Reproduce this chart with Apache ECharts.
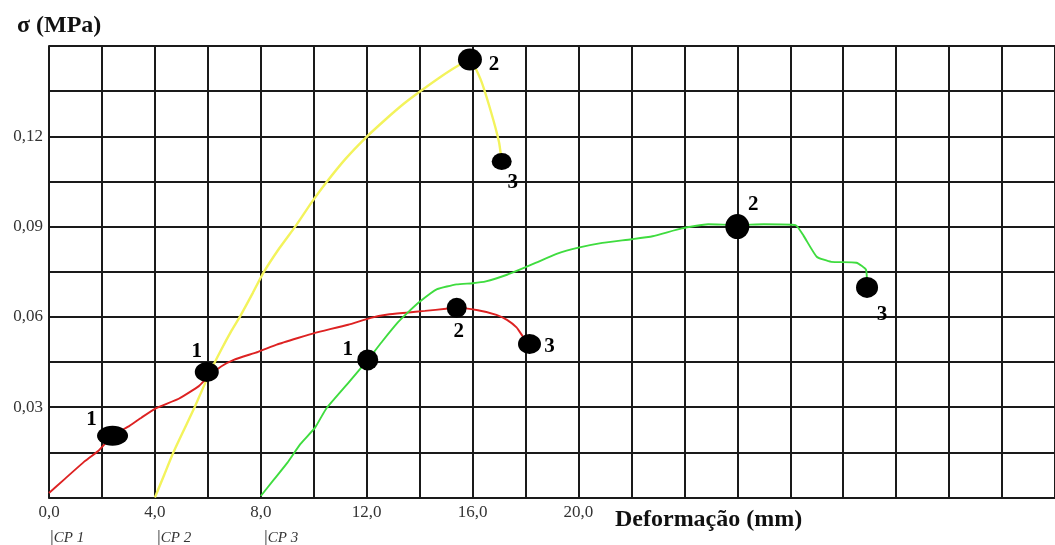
<!DOCTYPE html>
<html><head><meta charset="utf-8">
<script src="https://cdn.jsdelivr.net/npm/echarts@6/dist/echarts.min.js"></script>
<style>html,body{margin:0;padding:0;background:#fff}#c{width:1055px;height:545px}</style>
</head><body><div id="c"></div>
<script>
// ---- data ----
const xTickLabels = ['0,0', '4,0', '8,0', '12,0', '16,0', '20,0'];
const yTickLabels = ['0,03', '0,06', '0,09', '0,12'];
const cpLabels = ['CP 1', 'CP 2', 'CP 3'];
const yTitle = 'σ (MPa)';
const xTitle = 'Deformação (mm)';

const cp1 = [[0,0.0015],[0.6,0.0062],[1.28,0.0115],[1.9,0.0158],[2.4,0.0205],[3.04,0.0238],[3.5,0.0266],[4.05,0.0297],[4.9,0.0328],[5.66,0.037],[6.0,0.040],[6.5,0.0435],[7.0,0.0458],[7.9,0.0484],[8.6,0.0508],[9.4,0.053],[10.05,0.0547],[11.3,0.0574],[12.15,0.0597],[12.8,0.0608],[13.5,0.0614],[14.2,0.062],[15.0,0.0627],[15.4,0.063],[16.2,0.0622],[16.9,0.0607],[17.3,0.059],[17.66,0.0565],[17.9,0.0535],[18.15,0.051]];
const cp2 = [[4.0,0.0],[4.35,0.0075],[4.7,0.015],[5.1,0.0225],[5.5,0.030],[6.1,0.042],[6.5,0.049],[6.9,0.0555],[7.24,0.0605],[7.7,0.068],[8.1,0.0747],[8.7,0.0828],[9.34,0.0905],[9.9,0.0978],[10.46,0.1045],[11.2,0.1125],[11.96,0.1195],[12.7,0.1255],[13.4,0.1308],[14.0,0.1348],[14.8,0.1398],[15.4,0.1432],[15.9,0.1455],[16.3,0.139],[16.7,0.128],[17.0,0.118],[17.1,0.1116]];
const cp3 = [[8.0,0.0005],[8.5,0.006],[9.0,0.0115],[9.5,0.0178],[10.05,0.0232],[10.47,0.0295],[11.3,0.038],[12.04,0.0457],[12.6,0.052],[13.16,0.058],[13.5,0.061],[14.0,0.065],[14.66,0.0692],[15.4,0.0708],[16.0,0.0712],[16.5,0.0718],[17.3,0.074],[18.0,0.0765],[18.4,0.078],[19.2,0.081],[20.0,0.083],[20.9,0.0846],[22.0,0.0858],[22.8,0.0868],[23.9,0.0894],[24.9,0.0908],[26.0,0.0905],[27.0,0.0908],[28.2,0.0905],[28.5,0.087],[29.0,0.080],[29.55,0.0783],[30.5,0.078],[30.86,0.0757],[30.9,0.0698]];

const key1 = [[2.4,0.0205],[15.4,0.063],[18.15,0.051]];
const key2 = [[5.96,0.0417],[15.9,0.1455],[17.1,0.1116]];
const key3 = [[12.04,0.0457],[26.0,0.090],[30.9,0.0698]];
const keyNames = ['1', '2', '3'];

// ---- styles ----
const keySizes = [
  [[31,20],[20,20],[23,20]],
  [[24,20],[24,22],[20,17]],
  [[21,21],[24,25],[22,21]]
];
const keyLabelOffsets = [
  [[-21,-16],[2,24],[20,3]],
  [[-10,-20],[24,5],[11,21]],
  [[-20,-10],[16,-22],[15,27]]
];
const serif = '"Liberation Serif","Times New Roman",serif';

function keySeries(pts, ci) {
  return {
    type: 'scatter', z: 5,
    data: pts.map((p, i) => ({
      value: p,
      symbolSize: keySizes[ci][i],
      label: { offset: keyLabelOffsets[ci][i] }
    })),
    itemStyle: { color: '#000', opacity: 1 },
    label: {
      show: true, position: 'inside',
      formatter: (d) => keyNames[d.dataIndex],
      fontFamily: serif, fontWeight: 'bold', fontSize: 21, color: '#000', opacity: 1
    },
    emphasis: { disabled: true }
  };
}

const cpLeft = [45, 152, 259];
const titles = [
  { text: yTitle, left: 12, top: 9, textStyle: { fontFamily: serif, fontWeight: 'bold', fontSize: 24, color: '#111' } },
  { text: xTitle, left: 610, top: 503, textStyle: { fontFamily: serif, fontWeight: 'bold', fontSize: 24, color: '#111' } }
].concat(cpLabels.map((t, i) => ({
  text: '{b||}{t|' + t + '}', left: cpLeft[i], top: 524,
  textStyle: { fontWeight: 'normal', rich: {
    b: { fontFamily: serif, fontWeight: 'normal', fontSize: 19, color: '#444' },
    t: { fontFamily: serif, fontWeight: 'normal', fontStyle: 'italic', fontSize: 15, color: '#333' }
  } }
})));

const chart = echarts.init(document.getElementById('c'), null, { renderer: 'canvas' });
chart.setOption({
  animation: false,
  backgroundColor: '#fff',
  title: titles,
  grid: { left: 49, top: 46, width: 1013, height: 451.5, containLabel: false },
  xAxis: {
    type: 'value', min: 0, max: 38, interval: 2,
    axisLine: { show: true, onZero: false, lineStyle: { color: '#1a1a1a', width: 2 } },
    axisTick: { show: false },
    splitLine: { show: true, lineStyle: { color: '#1a1a1a', width: 2 } },
    axisLabel: {
      margin: 7, fontFamily: serif, fontSize: 17, color: '#333', showMaxLabel: false,
      formatter: (v) => { const s = v.toFixed(1).replace('.', ','); return xTickLabels.includes(s) ? s : ''; }
    }
  },
  yAxis: {
    type: 'value', min: 0, max: 0.15, interval: 0.015,
    axisLine: { show: true, lineStyle: { color: '#1a1a1a', width: 2 } },
    axisTick: { show: false },
    splitLine: { show: true, lineStyle: { color: '#1a1a1a', width: 2 } },
    axisLabel: {
      margin: 6, fontFamily: serif, fontSize: 17, color: '#333',
      formatter: (v) => { const s = v.toFixed(2).replace('.', ','); return yTickLabels.includes(s) ? s : ''; }
    }
  },
  series: [
    { type: 'line', data: cp2, smooth: 0.15, showSymbol: false, z: 2, lineStyle: { color: '#f3f35c', width: 2.4 }, emphasis: { disabled: true } },
    { type: 'line', data: cp1, smooth: 0.15, showSymbol: false, z: 3, lineStyle: { color: '#dd2222', width: 1.9 }, emphasis: { disabled: true } },
    { type: 'line', data: cp3, smooth: 0.15, showSymbol: false, z: 3, lineStyle: { color: '#3fdc3f', width: 1.9 }, emphasis: { disabled: true } },
    keySeries(key1, 0),
    keySeries(key2, 1),
    keySeries(key3, 2)
  ]
});
</script>
</body></html>
